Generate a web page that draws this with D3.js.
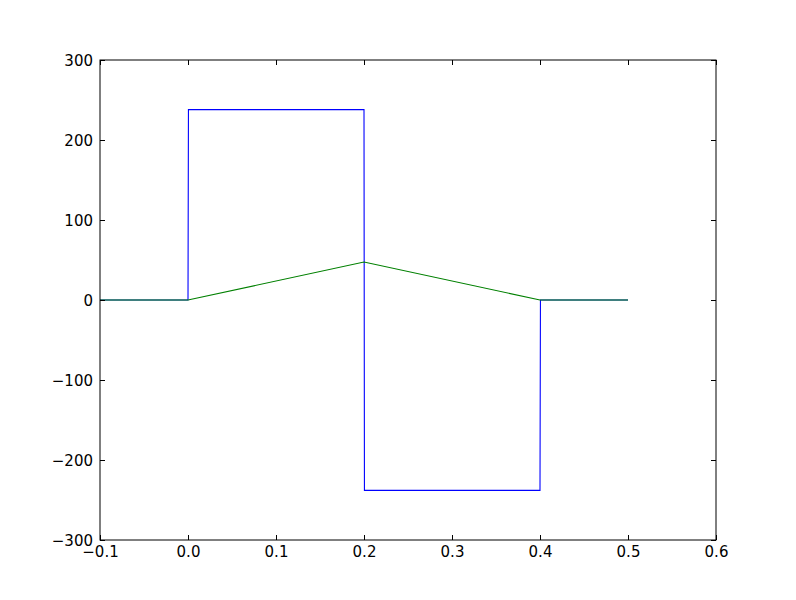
<!DOCTYPE html>
<html>
<head>
<meta charset="utf-8">
<script src="https://cdn.jsdelivr.net/npm/d3@7"></script>
<style>
  body { margin: 0; background: #fff; }
  svg { display: block; }
  text { font-family: "DejaVu Sans", sans-serif; font-size: 15px; fill: #000; }
</style>
</head>
<body>
<svg id="chart" width="796" height="600"></svg>
<script>
// Data
const blueX = [-0.1, 0.0, 0.0005, 0.2, 0.2005, 0.4, 0.4005, 0.5];
const blueY = [0, 0, 238, 238, -238, -238, 0, 0];
const greenX = [-0.1, 0.0, 0.2, 0.4, 0.5];
const greenY = [0, 0, 47.5, 0, 0];
const xTicks = [-0.1, 0.0, 0.1, 0.2, 0.3, 0.4, 0.5, 0.6];
const yTicks = [-300, -200, -100, 0, 100, 200, 300];

(function () {
const svg = d3.select("#chart");
const margin = { left: 100, right: 80, top: 60, bottom: 60 };
const W = 796, H = 600;
const x = d3.scaleLinear().domain([-0.1, 0.6]).range([margin.left, W - margin.right]);
const y = d3.scaleLinear().domain([-300, 300]).range([H - margin.bottom, margin.top]);

const fmtX = d => (d < 0 ? "\u2212" : "") + Math.abs(d).toFixed(1);
const fmtY = d => (d < 0 ? "\u2212" : "") + Math.abs(d);

const line = d3.line().x(d => x(d[0])).y(d => y(d[1]));
const blue = blueX.map((v, i) => [v, blueY[i]]);
const green = greenX.map((v, i) => [v, greenY[i]]);

svg.append("path").datum(blue).attr("d", line)
  .attr("fill", "none").attr("stroke", "#0000ff").attr("stroke-width", 1.1);
svg.append("path").datum(green).attr("d", line)
  .attr("fill", "none").attr("stroke", "#008000").attr("stroke-width", 1.1);

const tl = 5;
const gBottom = svg.append("g").attr("transform", `translate(0,${y(-300)})`)
  .call(d3.axisBottom(x).tickValues(xTicks).tickFormat(fmtX).tickSizeInner(-tl).tickSizeOuter(0).tickPadding(8));
const gTop = svg.append("g").attr("transform", `translate(0,${y(300)})`)
  .call(d3.axisTop(x).tickValues(xTicks).tickFormat("").tickSizeInner(-tl).tickSizeOuter(0));
const gLeft = svg.append("g").attr("transform", `translate(${x(-0.1)},0)`)
  .call(d3.axisLeft(y).tickValues(yTicks).tickFormat(fmtY).tickSizeInner(-tl).tickSizeOuter(0).tickPadding(7));
const gRight = svg.append("g").attr("transform", `translate(${x(0.6)},0)`)
  .call(d3.axisRight(y).tickValues(yTicks).tickFormat("").tickSizeInner(-tl).tickSizeOuter(0));

[gBottom, gTop, gLeft, gRight].forEach(g => {
  g.selectAll(".domain").remove();
  g.selectAll("line").attr("stroke", "#000").attr("stroke-width", 1);
  g.selectAll("text").attr("font-family", "DejaVu Sans, sans-serif").attr("font-size", 15).attr("fill", "#000");
});
gBottom.selectAll("text").attr("dy", "0.71em").attr("y", 6);
gLeft.selectAll("text").attr("dy", "0.36em").attr("x", -7);

svg.append("rect")
  .attr("x", x(-0.1)).attr("y", y(300))
  .attr("width", x(0.6) - x(-0.1)).attr("height", y(-300) - y(300))
  .attr("fill", "none").attr("stroke", "#000").attr("stroke-width", 1);
})();
</script>
</body>
</html>
